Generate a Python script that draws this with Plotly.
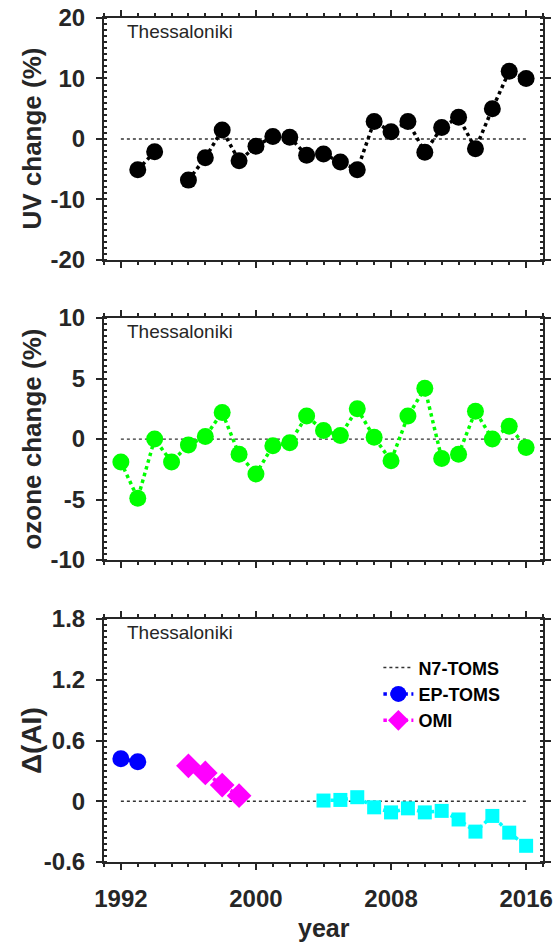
import plotly.graph_objects as go
from plotly.subplots import make_subplots

# yearly anomalies
years = list(range(1992, 2017))
uv_years = list(range(1993, 2017))
uv_change = [-5.1, -2.1, None, -6.8, -3.1, 1.5, -3.6, -1.2, 0.4, 0.3, -2.7, -2.5,
             -3.8, -5.1, 2.9, 1.2, 2.9, -2.2, 1.9, 3.6, -1.6, 5.0, 11.2, 10.0]
ozone_change = [-1.9, -4.9, 0.0, -1.9, -0.5, 0.2, 2.2, -1.25, -2.9, -0.55, -0.3, 1.9,
                0.7, 0.3, 2.5, 0.15, -1.8, 1.9, 4.2, -1.6, -1.25, 2.3, 0.0, 1.05, -0.7]

ep_years = [1992, 1993]
ep_ai = [0.42, 0.39]
omi_years = [1996, 1997, 1998, 1999]
omi_ai = [0.35, 0.28, 0.16, 0.055]
omi2_years = list(range(2004, 2017))
omi2_ai = [0.007, 0.013, 0.04, -0.06, -0.11, -0.07, -0.11, -0.095, -0.18, -0.30,
           -0.145, -0.31, -0.44]

ref_years = [years[0], years[-1]]
ref_zero = [0, 0]

x_ticks = [1992, 2000, 2008, 2016]
uv_ticks = [-20, -10, 0, 10, 20]
uv_labels = ["-20", "-10", "0", "10", "20"]
oz_ticks = [-10, -5, 0, 5, 10]
oz_labels = ["-10", "-5", "0", "5", "10"]
ai_ticks = [-0.6, 0, 0.6, 1.2, 1.8]
ai_labels = ["-0.6", "0", "0.6", "1.2", "1.8"]

INK = "#262626"
FONT = "Liberation Sans, Arial, sans-serif"

fig = make_subplots(rows=3, cols=1)


def dotted(x, y, color, symbol="circle", size=17, name=None, legend=False, row=1):
    fig.add_trace(go.Scatter(
        x=x, y=y, mode="lines+markers", name=name, showlegend=legend,
        connectgaps=False,
        line=dict(color=color, width=3.5, dash="dot"),
        marker=dict(color=color, symbol=symbol, size=size, line=dict(width=0)),
    ), row=row, col=1)


def zero_line(row, name=None, legend=False):
    fig.add_trace(go.Scatter(
        x=ref_years, y=ref_zero, mode="lines", name=name, showlegend=legend,
        line=dict(color="#333333", width=1.3, dash="dot"),
    ), row=row, col=1)


zero_line(1)
dotted(uv_years, uv_change, "black", row=1)

zero_line(2)
dotted(years, ozone_change, "#00ff00", row=2)

zero_line(3, name="N7-TOMS", legend=True)
dotted(ep_years, ep_ai, "#0000ff", name="EP-TOMS", legend=True, row=3)
dotted(omi_years, omi_ai, "#ff00ff", symbol="diamond", size=19, name="OMI", legend=True, row=3)
dotted(omi2_years, omi2_ai, "#00ffff", symbol="square", size=14, row=3)

axis_common = dict(
    showline=True, linewidth=2, linecolor=INK, mirror="allticks",
    ticks="outside", ticklen=6, tickwidth=1.5, tickcolor=INK,
    showgrid=False, zeroline=False, automargin=False,
    tickfont=dict(family=FONT, size=24, color=INK, weight="bold"),
)

for i in (1, 2, 3):
    fig.update_xaxes(
        range=[1991, 2017], tickvals=x_ticks, showticklabels=(i == 3),
        minor=dict(dtick=1, tick0=1991, ticks="outside", ticklen=3, tickcolor=INK),
        ticklabelstandoff=8,
        **axis_common, row=i, col=1)

fig.update_yaxes(range=[-20, 20], tickvals=uv_ticks, ticktext=uv_labels,
                 domain=[0.7133, 1.0],
                 minor=dict(dtick=1, ticks="inside", ticklen=3, tickcolor=INK),
                 ticklabelstandoff=6, **axis_common, row=1, col=1)
fig.update_yaxes(range=[-10, 10], tickvals=oz_ticks, ticktext=oz_labels,
                 domain=[0.3578, 0.6445],
                 minor=dict(dtick=0.5, ticks="inside", ticklen=3, tickcolor=INK),
                 ticklabelstandoff=6, **axis_common, row=2, col=1)
fig.update_yaxes(range=[-0.6, 1.8], tickvals=ai_ticks, ticktext=ai_labels,
                 domain=[0.0, 0.2879],
                 minor=dict(dtick=0.06, tick0=-0.6, ticks="inside", ticklen=3, tickcolor=INK),
                 ticklabelstandoff=6, **axis_common, row=3, col=1)

# station labels and axis titles
titles = [("y", "UV change (%)", 26), ("y2", "ozone change (%)", 26), ("y3", "\u0394(AI)", 28)]
for yref, title, size in titles:
    fig.add_annotation(
        xref=yref.replace("y", "x") + " domain", yref=yref + " domain",
        x=0.048, y=0.946, xanchor="left", yanchor="middle", showarrow=False,
        text="Thessaloniki", font=dict(family=FONT, size=19, color=INK))
    fig.add_annotation(
        xref="paper", yref=yref + " domain", x=-0.165, y=0.5,
        xanchor="center", yanchor="middle", textangle=-90, showarrow=False,
        text=title, font=dict(family=FONT, size=size, color=INK, weight="bold"))

fig.add_annotation(
    xref="paper", yref="paper", x=0.5, y=-0.078, xanchor="center", yanchor="middle",
    showarrow=False, text="year", font=dict(family=FONT, size=25, color=INK, weight="bold"))

fig.update_layout(
    width=556, height=945,
    margin=dict(l=104, r=13, t=18, b=83),
    plot_bgcolor="white", paper_bgcolor="white",
    legend=dict(x=0.625, y=0.252, xanchor="left", yanchor="top",
                bgcolor="rgba(0,0,0,0)", tracegroupgap=0,
                font=dict(family=FONT, size=18, color="black", weight="bold")),
)

# drop the browser's default 8px body margin so the figure fills the window
fig.write_html("out.html", config={"displayModeBar": False},
               post_script="document.body.style.margin = '0px';")
